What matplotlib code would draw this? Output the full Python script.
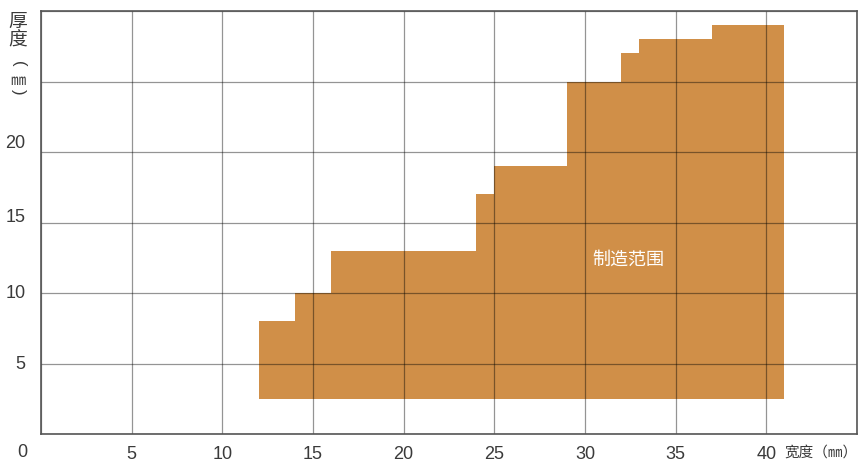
import numpy as np
import matplotlib
matplotlib.use('Agg')
import matplotlib.pyplot as plt
from matplotlib.transforms import ScaledTranslation

plt.rcParams['font.family'] = ['Liberation Sans', 'Noto Sans CJK SC']

# step outline of the manufacturing range (width mm -> max thickness mm)
step_x = [12, 14, 16, 24, 25, 29, 32, 33, 37, 41]
step_top = [8, 10, 13, 17, 19, 25, 27, 28, 29]
base_thickness = 2.5

x_ticks = [5, 10, 15, 20, 25, 30, 35, 40]
y_ticks = [5, 10, 15, 20]
region_label = "制造范围"
x_title = "宽度（㎜）"
y_title_chars = ["厚", "度", "(", "㎜", ")"]

fill_color = '#d08f48'
text_color = '#3a3a3a'

fig = plt.figure(figsize=(8.58, 4.64), dpi=100)
ax = fig.add_axes([41/858, 29/464, 816/858, 423/464])

# build the stepped polygon
xs = []
ys = []
for i in range(len(step_top)):
    xs += [step_x[i], step_x[i+1]]
    ys += [step_top[i], step_top[i]]
xs = [step_x[0]] + xs + [step_x[-1]]
ys = [base_thickness] + ys + [base_thickness]
ax.fill(xs, ys, color=fill_color, lw=0, zorder=1)

ax.set_xlim(0, 45)
ax.set_ylim(0, 30)
ax.set_xticks([0, 5, 10, 15, 20, 25, 30, 35, 40, 45])
ax.set_yticks([0, 5, 10, 15, 20, 25, 30])
ax.set_xticklabels([''] + [str(v) for v in x_ticks] + [''])
ax.set_yticklabels([''] + [str(v) for v in y_ticks] + ['', ''])
ax.tick_params(length=0, labelsize=13, colors=text_color)
ax.tick_params(axis='x', pad=8)
ax.tick_params(axis='y', pad=11)
ax.grid(True, color='black', alpha=0.42, lw=0.9, zorder=2)
ax.set_axisbelow(False)
for s in ax.spines.values():
    s.set_color('#555555')
    s.set_linewidth(1.2)
    s.set_zorder(3)

# y labels in the reference sit slightly above their gridlines
lift = {'5': 2, '10': 3, '15': 8, '20': 12}
for lab in ax.get_yticklabels():
    t = lab.get_text()
    if t in lift:
        lab.set_transform(lab.get_transform() + ScaledTranslation(0, lift[t] / 100, fig.dpi_scale_trans))

ax.text(32.4, 12.4, region_label, color='white', fontsize=13,
        ha='center', va='center', zorder=4)

fig.text(22/858, 1 - 453/464, "0", color=text_color, fontsize=13,
         ha='center', va='center')
fig.text(1.0, 1 - 453/464, x_title, color=text_color, fontsize=10.5,
         ha='right', va='center')

# vertical y title: characters stacked, brackets turned sideways
y_pos = [22, 41, 64, 81, 92]
for ch, yp in zip(y_title_chars, y_pos):
    if ch in "()":
        fig.text(18/858, 1 - yp/464, ch, color=text_color, fontsize=12,
                 rotation=-90, ha='center', va='center', family='Liberation Sans')
    elif ch == "㎜":
        fig.text(18/858, 1 - yp/464, ch, color=text_color, fontsize=11,
                 ha='center', va='center', family='Noto Sans CJK SC')
    else:
        fig.text(18/858, 1 - yp/464, ch, color=text_color, fontsize=13.5,
                 ha='center', va='center')

fig.savefig('out.png', dpi=100)
